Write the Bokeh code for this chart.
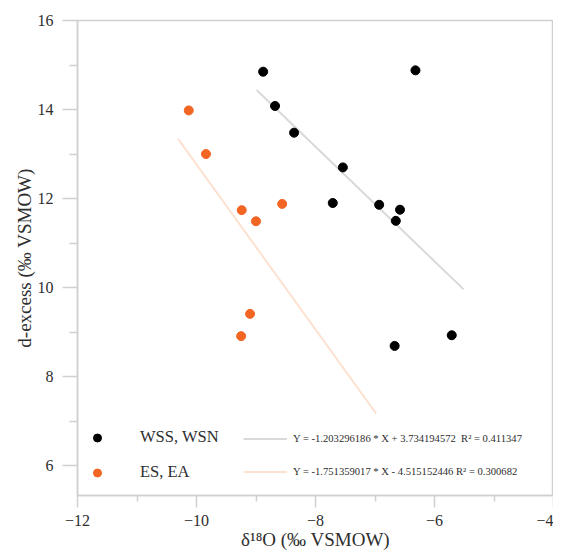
from bokeh.plotting import figure
from bokeh.models import Range1d, FixedTicker, Legend, LegendItem
from bokeh.embed import file_html
from bokeh.resources import INLINE

# --- data ---
wss_x = [-8.88, -6.32, -8.68, -8.36, -7.54, -7.71, -6.93, -6.58, -6.65, -5.71, -6.67]
wss_y = [14.85, 14.88, 14.08, 13.48, 12.70, 11.90, 11.86, 11.75, 11.50, 8.93, 8.69]
es_x = [-10.13, -9.84, -9.24, -9.00, -8.56, -9.10, -9.25]
es_y = [13.98, 13.00, 11.74, 11.49, 11.88, 9.41, 8.91]
fit_wss_x = [-8.99, -5.51]
fit_wss_y = [14.44, 9.96]
fit_es_x = [-10.31, -6.98]
fit_es_y = [13.34, 7.17]
label_wss = "WSS, WSN"
label_es = "ES, EA"
eq_wss = "Y = -1.203296186 * X + 3.734194572  R\u00b2 = 0.411347"
eq_es = "Y = -1.751359017 * X - 4.515152446 R\u00b2 = 0.300682"
x_major = [-12, -10, -8, -6, -4]
x_minor = [-11, -9, -7, -5]
y_major = [6, 8, 10, 12, 14, 16]
y_minor = [7, 9, 11, 13, 15]

FONT = "Liberation Serif"
AX = "#d0d0d0"
TXT = "#2e2e2e"

p = figure(width=553, height=552, output_backend="svg", toolbar_location=None,
           x_range=Range1d(-12, -4), y_range=Range1d(5.33, 16),
           min_border_left=77, min_border_right=0, min_border_top=20, min_border_bottom=57)
p.grid.visible = False
p.outline_line_color = AX
p.outline_line_width = 1.5
p.background_fill_color = "white"

p.xaxis.ticker = FixedTicker(ticks=x_major, minor_ticks=x_minor)
p.yaxis.ticker = FixedTicker(ticks=y_major, minor_ticks=y_minor)
p.xaxis.major_label_overrides = {v: ("\u2212" + str(abs(v)) if v < 0 else str(v)) for v in x_major}
p.yaxis.major_label_overrides = {v: str(v) for v in y_major}

for ax in (p.xaxis, p.yaxis):
    ax.axis_line_color = AX
    ax.axis_line_width = 1.5
    ax.major_tick_line_color = AX
    ax.minor_tick_line_color = AX
    ax.major_tick_line_width = 1.5
    ax.minor_tick_line_width = 1.5
    ax.major_tick_in = 0
    ax.minor_tick_in = 0
    ax.major_tick_out = 15
    ax.minor_tick_out = 8
    ax.major_label_text_font = FONT
    ax.major_label_text_font_size = "16px"
    ax.major_label_text_color = TXT
    ax.axis_label_text_font = FONT
    ax.axis_label_text_font_size = "19px"
    ax.axis_label_text_font_style = "normal"
    ax.axis_label_text_color = TXT

p.xaxis.major_tick_out = 12
p.xaxis.minor_tick_out = 6
p.xaxis.axis_label = "\u03b4\u00b9\u2078O (\u2030 VSMOW)"
p.yaxis.axis_label = "d-excess (\u2030 VSMOW)"
p.xaxis.major_label_standoff = 7
p.yaxis.major_label_standoff = 9
p.xaxis.axis_label_standoff = 0
p.yaxis.axis_label_standoff = 0

l1 = p.line(fit_wss_x, fit_wss_y, line_color="#d9d9d9", line_width=2)
l2 = p.line(fit_es_x, fit_es_y, line_color="#fde2d2", line_width=2)
s1 = p.scatter(wss_x, wss_y, size=9, fill_color="black", line_color="black")
s2 = p.scatter(es_x, es_y, size=9, fill_color="#f26522", line_color="#f26522")

leg1 = Legend(items=[LegendItem(label=label_wss, renderers=[s1]),
                     LegendItem(label=label_es, renderers=[s2])],
              location=(10, 5.5), padding=0, margin=0, spacing=0,
              glyph_width=20, glyph_height=35, label_height=35, label_standoff=33,
              label_text_font=FONT, label_text_font_size="16.5px", label_text_color=TXT,
              background_fill_alpha=0, border_line_alpha=0)
leg2 = Legend(items=[LegendItem(label=eq_wss, renderers=[l1]),
                     LegendItem(label=eq_es, renderers=[l2])],
              location=(166, 7), padding=0, margin=0, spacing=0,
              glyph_width=44, glyph_height=33, label_height=33, label_standoff=6,
              label_text_font=FONT, label_text_font_size="10.6px", label_text_color=TXT,
              background_fill_alpha=0, border_line_alpha=0)
p.add_layout(leg1)
p.add_layout(leg2)

open("out.html", "w").write(file_html(p, INLINE))
